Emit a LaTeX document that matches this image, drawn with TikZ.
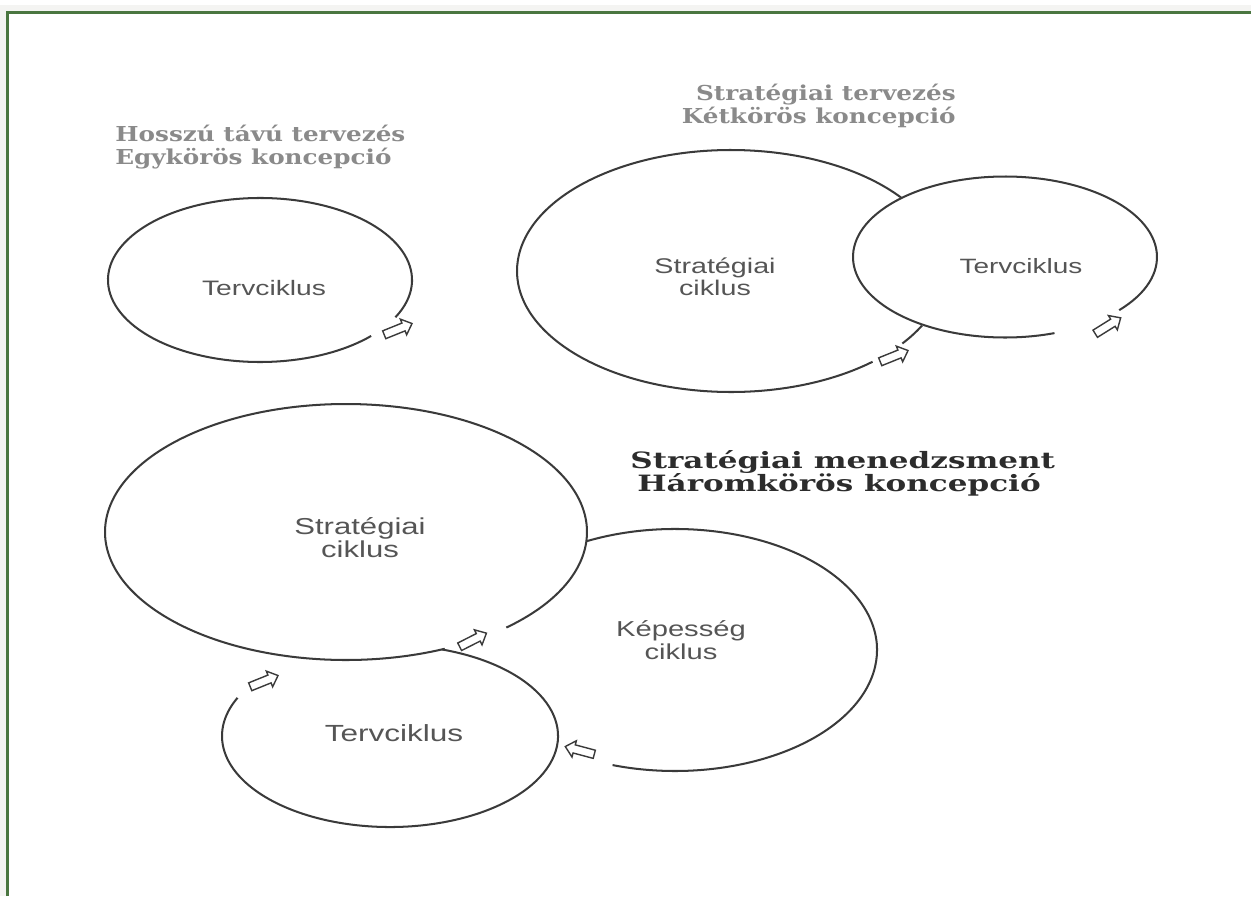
\documentclass[tikz,border=0pt]{standalone}
\usepackage{fontspec}
\usetikzlibrary{calc,shapes.arrows}

% fonts: wide sans for the cycle names, wide bold serif for the headings
\newfontfamily\cyclefont{Liberation Sans}[FakeStretch=1.35]
\newfontfamily\titlefont{DejaVu Serif}[FakeStretch=1.2]
\newfontfamily\headfont{DejaVu Serif}[FakeStretch=1.38]

\definecolor{ink}{HTML}{3A3A3A}
\definecolor{labelgray}{HTML}{555555}
\definecolor{titlegray}{HTML}{8A8A8A}
\definecolor{headink}{HTML}{2C2C2C}
\definecolor{framegreen}{HTML}{4A7640}
\definecolor{frameshade}{HTML}{F4F4F2}

\tikzset{
  ring/.style={draw=ink, line width=1.15pt},
  frameline/.style={draw=framegreen, line width=1.9pt},
  shadeline/.style={draw=frameshade, line width=3pt},
  flow/.style={single arrow, draw=ink, fill=white, line width=0.8pt,
    inner xsep=0pt, inner ysep=2pt, minimum height=0.6cm,
    single arrow head extend=2.4pt, single arrow tip angle=85},
  cyclelabel/.style={text=labelgray, align=center, inner sep=0pt},
  grayhead/.style={text=titlegray, inner sep=0pt,
    font=\titlefont\bfseries\fontsize{11.7}{14}\selectfont},
  blackhead/.style={text=headink, inner sep=0pt,
    font=\headfont\bfseries\fontsize{12.8}{15}\selectfont},
}

\begin{document}
\begin{tikzpicture}[x=0.02cm, y=0.02cm]
\useasboundingbox (0,0) rectangle (1251,-896);

% frame (left and top edges) with a faint shade outside it
\coordinate (sBL) at (3,-896);
\coordinate (sTL) at (3,-8);
\coordinate (sTR) at (1251,-8);
\draw[shadeline] (sBL) -- (sTL) -- (sTR);
\coordinate (fBL) at (7.5,-896);
\coordinate (fTL) at (7.5,-12.5);
\coordinate (fTR) at (1251,-12.5);
\draw[frameline] (fBL) -- (fTL) -- (fTR);

% ---------- one-cycle concept ----------
\node[grayhead, anchor=base west] (t1a) at (115,-141) {Hosszú távú tervezés};
\node[grayhead, anchor=base west] (t1b) at (115,-164) {Egykörös koncepció};

\coordinate (c1) at (260,-280);
\draw[ring] ($(c1)+(-27:152 and 82)$) arc[start angle=-27, end angle=317, x radius=152, y radius=82];
\node[cyclelabel, font=\cyclefont\fontsize{11.9}{13}\selectfont] (l1) at (264,-288) {Tervciklus};
\node[flow, rotate=22] (a1) at (396,-330) {};

% ---------- two-cycle concept ----------
\node[grayhead, anchor=base east] (t2a) at (956,-100) {Stratégiai tervezés};
\node[grayhead, anchor=base east] (t2b) at (956,-123) {Kétkörös koncepció};

\coordinate (c2) at (731,-271);
\coordinate (c3) at (1005,-257);
\draw[ring] ($(c2)+(37.2:214 and 121)$) arc[start angle=37.2, end angle=311.4, x radius=214, y radius=121];
\draw[ring] ($(c2)+(-36.8:214 and 121)$) arc[start angle=-36.8, end angle=-26.8, x radius=214, y radius=121];
\draw[ring] ($(c3)+(-41.3:152 and 80.5)$) arc[start angle=-41.3, end angle=289, x radius=152, y radius=80.5];
\node[cyclelabel, font=\cyclefont\fontsize{12.1}{12.6}\selectfont] (l2) at (715,-277) {Stratégiai\\ciklus};
\node[cyclelabel, font=\cyclefont\fontsize{11.8}{13}\selectfont] (l3) at (1021,-266) {Tervciklus};
\node[flow, rotate=22] (a2) at (892,-357) {};
\node[flow, rotate=32] (a3) at (1106,-327) {};

% ---------- three-cycle concept ----------
\node[blackhead, anchor=base west] (t3a) at (630,-468) {Stratégiai menedzsment};
\node[blackhead, anchor=base west] (t3b) at (637,-491) {Háromkörös koncepció};

\coordinate (c4) at (346,-532);
\coordinate (c5) at (390,-736);
\coordinate (c6) at (675,-650);
\draw[ring] ($(c4)+(-48.3:241 and 128)$) arc[start angle=-48.3, end angle=294.2, x radius=241, y radius=128];
\draw[ring] ($(c5)+(72:168 and 91)$) arc[start angle=72, end angle=-204.8, x radius=168, y radius=91];
\draw[ring] ($(c6)+(116:202 and 121)$) arc[start angle=116, end angle=-108, x radius=202, y radius=121];
\node[cyclelabel, font=\cyclefont\fontsize{13.1}{13}\selectfont] (l4) at (360,-538) {Stratégiai\\ciklus};
\node[cyclelabel, font=\cyclefont\fontsize{13.3}{13}\selectfont] (l5) at (394,-733) {Tervciklus};
\node[cyclelabel, font=\cyclefont\fontsize{12.3}{13}\selectfont] (l6) at (681,-640) {Képesség\\ciklus};
\node[flow, rotate=27] (a4) at (471,-641) {};
\node[flow, rotate=22] (a5) at (262,-682) {};
\node[flow, rotate=165] (a6) at (582,-751) {};

\end{tikzpicture}
\end{document}
